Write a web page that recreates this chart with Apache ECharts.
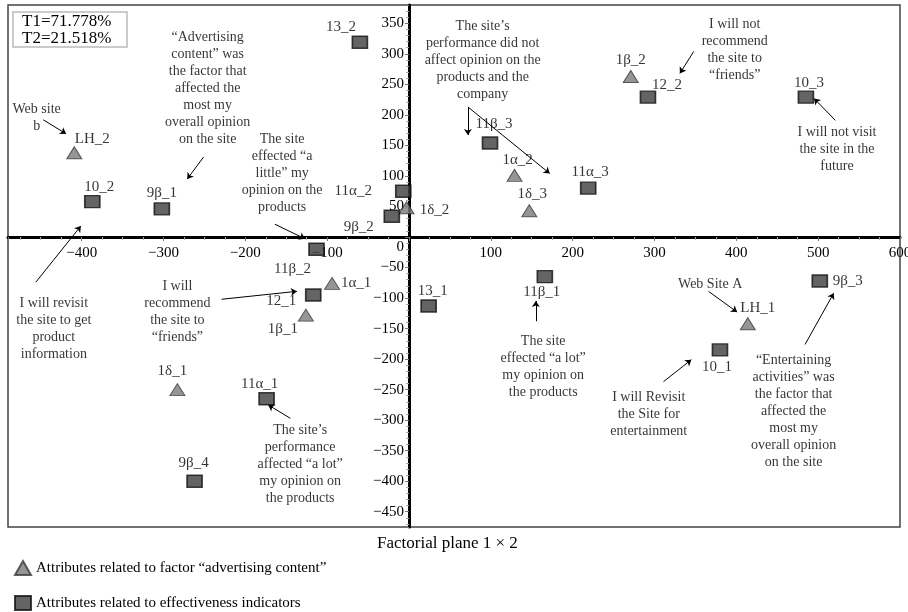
<!DOCTYPE html>
<html>
<head>
<meta charset="utf-8">
<style>
  html, body { margin: 0; padding: 0; background: #fff; }
  #chart { width: 908px; height: 612px; }
</style>
<script src="https://cdn.jsdelivr.net/npm/echarts@6/dist/echarts.min.js"></script>
</head>
<body>
<div id="chart"></div>
<script>
  // attributes related to factor "advertising content" (triangles)
  const triNames = ['LH_2', '1δ_2', '1β_2', '1α_2', '1δ_3', '1α_1', '1β_1', '1δ_1', 'LH_1']
  const triX = [-409, -3, 271, 129, 147, -94, -126, -283, 414]
  const triY = [138, 48, 263, 101, 43, -76, -128, -250, -142]

  // attributes related to effectiveness indicators (squares)
  const sqNames = ['13_2', '10_2', '9β_1', '11α_2', '9β_2', '11β_3', '11α_3', '12_2', '10_3',
    '11β_2', '12_1', '11α_1', '9β_4', '13_1', '11β_1', '10_1', '9β_3']
  const sqX = [-60, -387, -302, -7, -21, 99, 219, 292, 485, -113, -117, -174, -262, 24, 166, 380, 502]
  const sqY = [319, 58, 46, 75, 34, 154, 80, 229, 229, -20, -95, -265, -400, -113, -65, -185, -72]

  // callout texts and where they sit (data units)
  const noteTexts = [
    'Web site\nb',
    '“Advertising\ncontent” was\nthe factor that\naffected the\nmost my\noverall opinion\non the site',
    'The site\neffected “a\nlittle” my\nopinion on the\nproducts',
    'The site’s\nperformance did not\naffect opinion on the\nproducts and the\ncompany',
    'I will not\nrecommend\nthe site to\n“friends”',
    'I will not visit\nthe site in the\nfuture',
    'I will revisit\nthe site to get\nproduct\ninformation',
    'I will\nrecommend\nthe site to\n“friends”',
    'The site’s\nperformance\naffected “a lot”\nmy opinion on\nthe products',
    'The site\neffected “a lot”\nmy opinion on\nthe products',
    'Web Site A',
    'I will Revisit\nthe Site for\nentertainment',
    '“Entertaining\nactivities” was\nthe factor that\naffected the\nmost my\noverall opinion\non the site'
  ]
  const noteX = [-455, -246, -155, 90, 398, 523, -434, -283, -133, 164, 368, 293, 470]
  const noteY = [196, 243, 105, 289, 306, 143, -151, -122, -373, -212, -77, -291, -285]

  // arrows: [x1, y1, x2, y2]
  const arrows = [
    [-447, 192, -419, 169],
    [-251, 131, -271, 95],
    [-164, 21, -127, -3],
    [72, 213, 72, 167],
    [72, 213, 172, 104],
    [348, 304, 331, 268],
    [521, 191, 495, 227],
    [-456, -74, -401, 18],
    [-229, -102, -137, -89],
    [-145, -297, -172, -275],
    [155, -138, 155, -105],
    [366, -89, 401, -123],
    [311, -237, 345, -201],
    [484, -176, 519, -92]
  ]

  const TRI_NAME = 'Attributes related to factor “advertising content”'
  const SQ_NAME = 'Attributes related to effectiveness indicators'
  const SERIF = '"Liberation Serif", "Times New Roman", serif'

  // plot box and ranges
  const GRID = { left: 8, right: 8, top: 5, bottom: 85 }
  const X_MIN = -490, X_MAX = 600
  const Y_MIN = -475, Y_MAX = 380
  const W = 908, H = 612

  // move the axes from the box edges onto the zero lines
  const plotW = W - GRID.left - GRID.right
  const plotH = H - GRID.top - GRID.bottom
  const xAxisShift = -(plotH * (0 - Y_MIN) / (Y_MAX - Y_MIN))
  const yAxisShift = -(plotW * (0 - X_MIN) / (X_MAX - X_MIN))

  // label offsets from marker centre, px
  const labelOffset = {
    'LH_2': [18, -14], '1δ_2': [28, 2], '1β_2': [0, -16], '1α_2': [3, -15], '1δ_3': [3, -17],
    '1α_1': [24, 0], '1β_1': [-23, 14], '1δ_1': [-5, -19], 'LH_1': [10, -16],
    '13_2': [-19, -15], '10_2': [7, -15], '9β_1': [0, -16], '11α_2': [-50, 0], '9β_2': [-33, 11],
    '11β_3': [4, -19], '11α_3': [2, -16], '12_2': [19, -12], '10_3': [3, -14], '11β_2': [-24, 20],
    '12_1': [-32, 6], '11α_1': [-7, -15], '9β_4': [-1, -18], '13_1': [4, -15], '11β_1': [-3, 15],
    '10_1': [-3, 17], '9β_3': [28, 0]
  }

  function pointData(names, xs, ys) {
    return names.map((n, i) => ({
      name: n,
      value: [xs[i], ys[i]],
      label: { offset: labelOffset[n] || [0, -15] }
    }))
  }

  function minus(v) {
    return String(v).replace('-', '−')
  }

  const chart = echarts.init(document.getElementById('chart'))
  chart.setOption({
    animation: false,
    textStyle: { fontFamily: SERIF },
    title: [
      {
        text: 'T1=71.778%\nT2=21.518%',
        left: 13,
        top: 12,
        padding: [1, 16, 0, 9],
        borderColor: '#bbb',
        borderWidth: 1.5,
        textStyle: { fontFamily: SERIF, fontSize: 17, fontWeight: 'normal', color: '#000', lineHeight: 17 }
      },
      {
        text: 'Factorial plane 1 × 2',
        left: 377,
        top: 535,
        padding: 0,
        textStyle: { fontFamily: SERIF, fontSize: 17, fontWeight: 'normal', color: '#000' }
      }
    ],
    legend: {
      data: [TRI_NAME, SQ_NAME],
      orient: 'vertical',
      left: 14,
      top: 560,
      padding: 0,
      itemWidth: 16,
      itemHeight: 14,
      itemGap: 19,
      textStyle: { fontFamily: SERIF, fontSize: 15, color: '#000' }
    },
    grid: {
      left: GRID.left,
      right: GRID.right,
      top: GRID.top,
      bottom: GRID.bottom,
      outerBoundsMode: 'none',
      show: true,
      borderColor: '#444',
      borderWidth: 1.5
    },
    xAxis: {
      type: 'value',
      min: X_MIN,
      max: X_MAX,
      splitNumber: 10,
      position: 'bottom',
      offset: xAxisShift,
      splitLine: { show: false },
      axisLine: { onZero: false, lineStyle: { color: '#000', width: 3 } },
      axisTick: { length: 4, lineStyle: { color: '#777' } },
      minorTick: { show: true, splitNumber: 4, length: 3, lineStyle: { color: '#aaa' } },
      axisLabel: {
        margin: 9,
        fontSize: 15,
        color: '#000',
        formatter: v => (v === 0 || v % 100 !== 0) ? '' : minus(v)
      }
    },
    yAxis: {
      type: 'value',
      min: Y_MIN,
      max: Y_MAX,
      splitNumber: 17,
      position: 'left',
      offset: yAxisShift,
      splitLine: { show: false },
      axisLine: { onZero: false, lineStyle: { color: '#000', width: 3 } },
      axisTick: { length: 4, lineStyle: { color: '#777' } },
      minorTick: { show: true, splitNumber: 5, length: 3, lineStyle: { color: '#aaa' } },
      axisLabel: {
        margin: 5,
        fontSize: 15,
        color: '#000',
        formatter: v => {
          if (v % 50 !== 0) return ''
          if (v === 0) return '{z|0}'
          return minus(v)
        },
        rich: { z: { fontSize: 15, fontFamily: SERIF, color: '#000', padding: [20, 0, 0, 0] } }
      }
    },
    series: [
      {
        name: 'notes',
        type: 'scatter',
        symbolSize: 1,
        silent: true,
        itemStyle: { color: 'transparent' },
        label: {
          show: true,
          position: 'inside',
          color: '#000',
          fontFamily: SERIF,
          fontSize: 14,
          lineHeight: 17,
          align: 'center',
          formatter: p => noteTexts[p.dataIndex]
        },
        data: noteX.map((x, i) => [x, noteY[i]]),
        z: 1
      },
      {
        name: 'arrows',
        type: 'lines',
        coordinateSystem: 'cartesian2d',
        silent: true,
        symbol: ['none', 'arrow'],
        symbolSize: 6,
        lineStyle: { color: '#000', width: 1, opacity: 1 },
        data: arrows.map(a => ({ coords: [[a[0], a[1]], [a[2], a[3]]] })),
        z: 1
      },
      {
        name: TRI_NAME,
        type: 'scatter',
        symbol: 'triangle',
        symbolSize: [15, 12],
        itemStyle: { color: '#7b7b7b', borderColor: '#3a3a3a', borderWidth: 1 },
        label: {
          show: true,
          position: 'inside',
          formatter: '{b}',
          color: '#000',
          fontFamily: SERIF,
          fontSize: 15
        },
        data: pointData(triNames, triX, triY),
        z: 3
      },
      {
        name: SQ_NAME,
        type: 'scatter',
        symbol: 'rect',
        symbolSize: [15, 12],
        itemStyle: { color: '#3d3d3d', borderColor: '#111', borderWidth: 1.5 },
        label: {
          show: true,
          position: 'inside',
          formatter: '{b}',
          color: '#000',
          fontFamily: SERIF,
          fontSize: 15
        },
        data: pointData(sqNames, sqX, sqY),
        z: 3
      }
    ]
  })
</script>
</body>
</html>
